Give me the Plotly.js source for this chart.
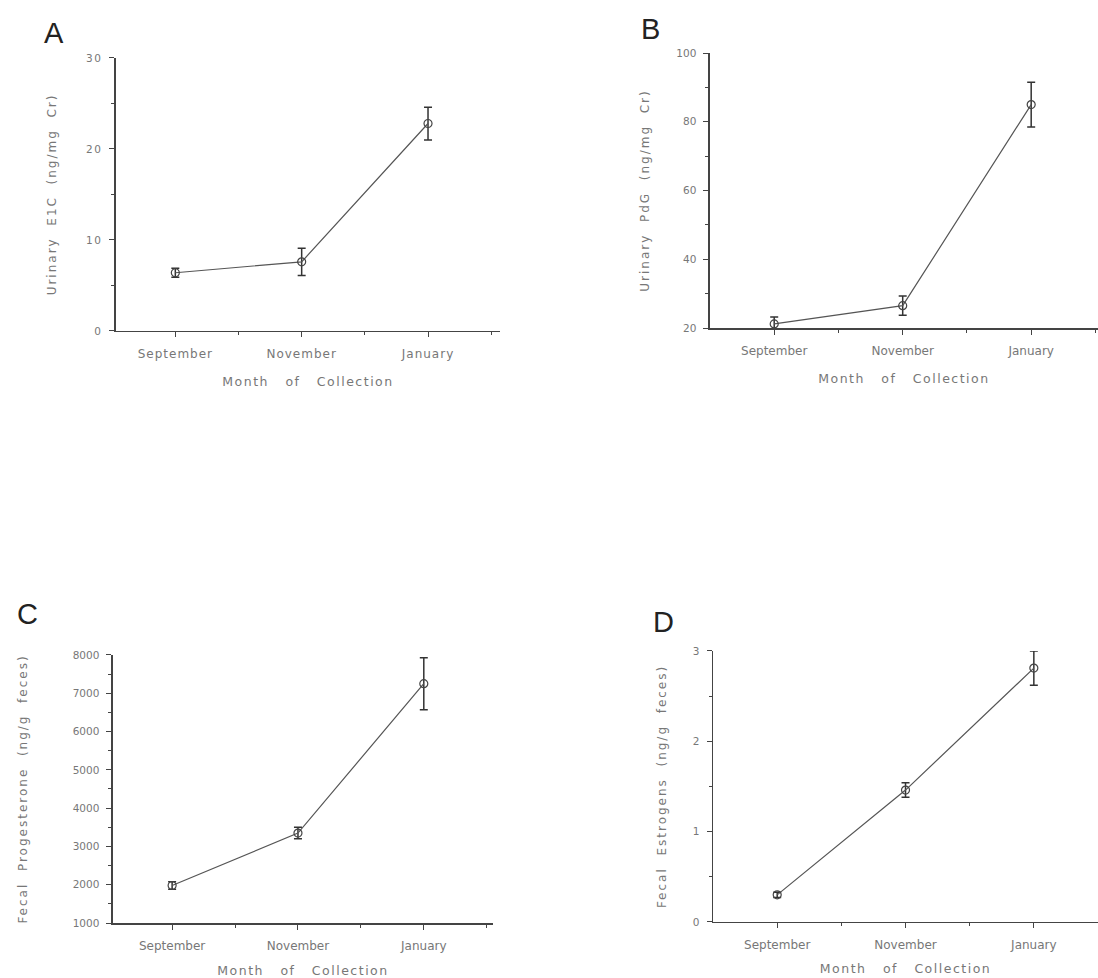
<!DOCTYPE html>
<html>
<head>
<meta charset="utf-8">
<script src="https://cdn.plot.ly/plotly-3.0.1.min.js"></script>
<style>
html,body{margin:0;padding:0;background:#fff;}
#chart{width:1098px;height:978px;}
#chart .xtick text{letter-spacing:1px;}
#chart .ytick text{letter-spacing:1.5px;}
#chart .xtitle, #chart .x2title, #chart .x3title, #chart .x4title{letter-spacing:1.5px;}
#chart .ytitle, #chart .y2title, #chart .y3title, #chart .y4title{letter-spacing:2px;}
</style>
</head>
<body>
<div id="chart"></div>
<script>
const months = ["September", "November", "January"];
const monthPos = [0, 1, 2];

const urinaryE1C = [6.4, 7.6, 22.8];
const urinaryE1CErr = [0.5, 1.5, 1.8];

const urinaryPdG = [21.2, 26.5, 85.0];
const urinaryPdGErr = [2.0, 2.8, 6.5];

const fecalProg = [1980, 3350, 7250];
const fecalProgErr = [100, 150, 680];

const fecalEstr = [0.30, 1.46, 2.81];
const fecalEstrErr = [0.03, 0.08, 0.19];

const yTicksA = [0, 10, 20, 30];
const yMinorA = [5, 15, 25];
const yTicksB = [20, 40, 60, 80, 100];
const yMinorB = [30, 50, 70, 90];
const yTicksC = [1000, 2000, 3000, 4000, 5000, 6000, 7000, 8000];
const yMinorC = [1500, 2500, 3500, 4500, 5500, 6500, 7500];
const yTicksD = [0, 1, 2, 3];
const yMinorD = [0.5, 1.5, 2.5];

const lineCol = '#555';
const axisCol = '#444';
const textCol = '#777';
const fontFam = 'DejaVu Sans, Liberation Sans, Arial, sans-serif';
const letterFam = 'Liberation Sans, Arial, sans-serif';

function trace(y, err, xa, ya) {
  return {
    x: monthPos, y: y, xaxis: xa, yaxis: ya,
    type: 'scatter', mode: 'lines+markers',
    line: {color: lineCol, width: 1.2},
    marker: {symbol: 'circle-open', size: 8, color: '#444', line: {width: 1.2, color: '#444'}},
    error_y: {type: 'data', array: err, visible: true, color: '#333', thickness: 1.5, width: 4},
    cliponaxis: false,
    showlegend: false
  };
}

function xAxis(domain, anchor, range, standoff) {
  return {
    domain: domain, anchor: anchor, range: range,
    tickvals: monthPos, ticktext: months,
    ticks: 'outside', ticklen: 5, tickwidth: 1, tickcolor: axisCol,
    minor: {tickvals: [0.5, 1.5, 2.5], ticks: 'outside', ticklen: 3, tickcolor: axisCol},
    showline: true, linecolor: axisCol, linewidth: 1.5,
    showgrid: false, zeroline: false,
    ticklabelstandoff: 6,
    tickfont: {size: 12, color: textCol, family: fontFam},
    title: {text: 'Month&nbsp;&nbsp;&nbsp;of&nbsp;&nbsp;&nbsp;Collection', font: {size: 12.5, color: textCol, family: fontFam}, standoff: standoff}
  };
}

function yAxis(domain, anchor, range, tv, minorTv, title, standoff) {
  return {
    domain: domain, anchor: anchor, range: range,
    tickvals: tv,
    ticks: 'outside', ticklen: 5, tickwidth: 1, tickcolor: axisCol,
    minor: {tickvals: minorTv, ticks: 'outside', ticklen: 3, tickcolor: axisCol},
    showline: true, linecolor: axisCol, linewidth: 1.5,
    showgrid: false, zeroline: false,
    ticklabelstandoff: 5,
    tickfont: {size: 10.5, color: textCol, family: fontFam},
    title: {text: title, font: {size: 12, color: textCol, family: fontFam}, standoff: standoff}
  };
}

const data = [
  trace(urinaryE1C, urinaryE1CErr, 'x', 'y'),
  trace(urinaryPdG, urinaryPdGErr, 'x2', 'y2'),
  trace(fecalProg, fecalProgErr, 'x3', 'y3'),
  trace(fecalEstr, fecalEstrErr, 'x4', 'y4')
];

const layout = {
  width: 1098, height: 978,
  margin: {l: 0, r: 0, t: 0, b: 0},
  paper_bgcolor: '#fff', plot_bgcolor: '#fff',
  font: {family: fontFam, color: textCol},
  xaxis: xAxis([0.1056, 0.4554], 'y', [-0.47, 2.57], 17),
  yaxis: yAxis([0.6616, 0.9407], 'x', [0, 30], yTicksA, yMinorA, 'Urinary&nbsp;&nbsp;E1C&nbsp;&nbsp;(ng/mg&nbsp;&nbsp;Cr)', 30),
  xaxis2: xAxis([0.6466, 1.0], 'y2', [-0.5, 2.52], 17),
  yaxis2: yAxis([0.6646, 0.9458], 'x2', [20, 100], yTicksB, yMinorB, 'Urinary&nbsp;&nbsp;PdG&nbsp;&nbsp;(ng/mg&nbsp;&nbsp;Cr)', 24),
  xaxis3: xAxis([0.1029, 0.449], 'y3', [-0.47, 2.55], 16),
  yaxis3: yAxis([0.0562, 0.3303], 'x3', [1000, 8000], yTicksC, yMinorC, 'Fecal&nbsp;&nbsp;Progesterone&nbsp;&nbsp;(ng/g&nbsp;&nbsp;feces)', 42),
  xaxis4: xAxis([0.6494, 1.0], 'y4', [-0.5, 2.5], 13),
  yaxis4: yAxis([0.0573, 0.3344], 'x4', [0, 3], yTicksD, yMinorD, 'Fecal&nbsp;&nbsp;Estrogens&nbsp;&nbsp;(ng/g&nbsp;&nbsp;feces)', 23),
  annotations: [
    {text: 'A', x: 54/1098, y: 1 - 33/978, xref: 'paper', yref: 'paper', xanchor: 'center', yanchor: 'middle', showarrow: false, font: {size: 29, color: '#222', family: letterFam}},
    {text: 'B', x: 650/1098, y: 1 - 29/978, xref: 'paper', yref: 'paper', xanchor: 'center', yanchor: 'middle', showarrow: false, font: {size: 29, color: '#222', family: letterFam}},
    {text: 'C', x: 27/1098, y: 1 - 614/978, xref: 'paper', yref: 'paper', xanchor: 'center', yanchor: 'middle', showarrow: false, font: {size: 29, color: '#222', family: letterFam}},
    {text: 'D', x: 663/1098, y: 1 - 622/978, xref: 'paper', yref: 'paper', xanchor: 'center', yanchor: 'middle', showarrow: false, font: {size: 29, color: '#222', family: letterFam}}
  ]
};

Plotly.newPlot('chart', data, layout, {displayModeBar: false, staticPlot: true});
</script>
</body>
</html>
